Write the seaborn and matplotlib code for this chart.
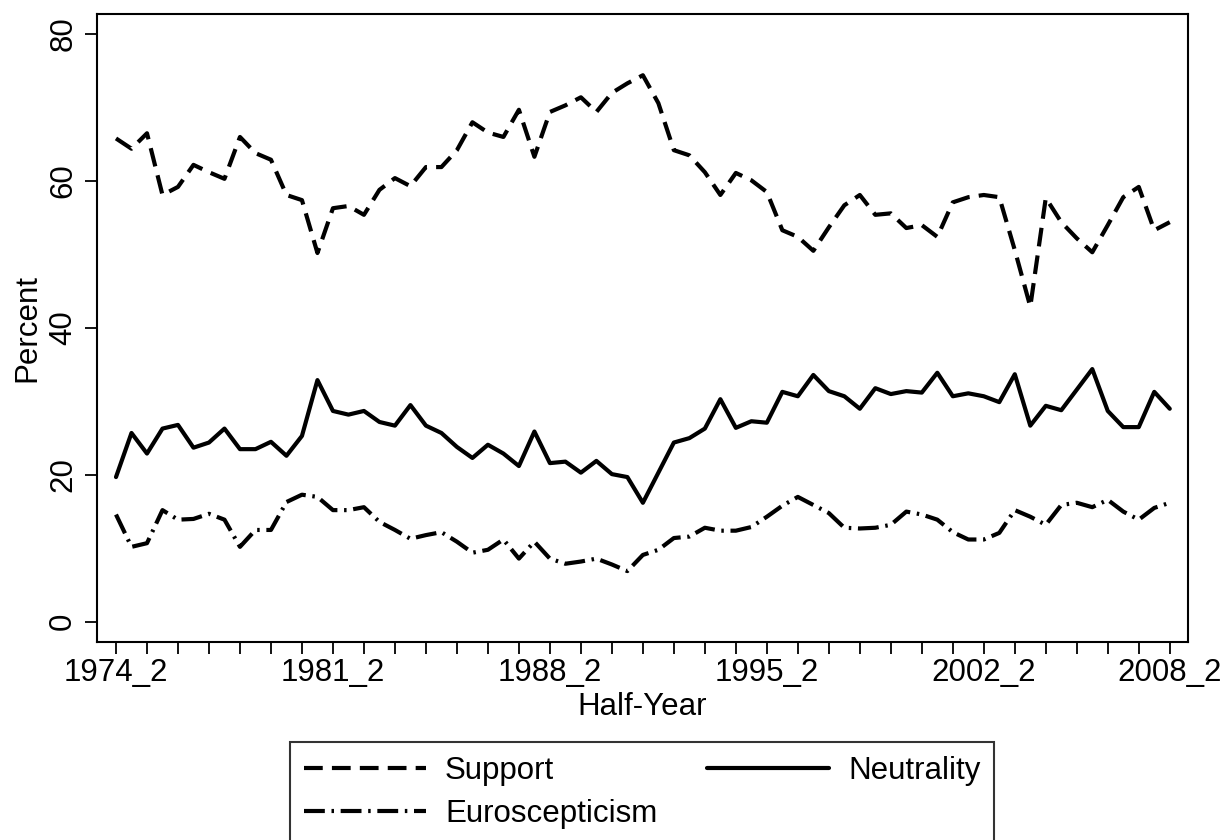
import pandas as pd
import matplotlib
matplotlib.use("Agg")
import matplotlib.pyplot as plt
import seaborn as sns

# half-year periods 1974_2 ... 2008_2
periods = [f"{y}_{h}" for y in range(1974, 2009) for h in (1, 2)][1:]
tick_labels = ["1974_2", "1981_2", "1988_2", "1995_2", "2002_2", "2008_2"]

support = [65.8, 64.4, 66.5, 58.1, 59.2, 62.2, 61.2, 60.3, 66.0, 63.8,
           62.9, 58.1, 57.4, 50.2, 56.3, 56.6, 55.4, 58.8, 60.4, 59.3,
           61.9, 61.9, 64.2, 68.0, 66.6, 66.0, 69.7, 63.3, 69.4, 70.3,
           71.4, 69.4, 72.0, 73.3, 74.4, 70.6, 64.2, 63.5, 61.2, 58.1,
           61.1, 60.1, 58.5, 53.3, 52.4, 50.5, 53.7, 56.7, 58.1, 55.4,
           55.6, 53.6, 54.0, 52.4, 57.1, 57.8, 58.1, 57.8, 50.6, 42.9,
           57.7, 54.4, 52.2, 50.3, 54.0, 57.8, 59.2, 53.3, 54.4]

neutrality = [19.7, 25.7, 22.9, 26.3, 26.8, 23.7, 24.4, 26.3, 23.5, 23.5,
              24.5, 22.6, 25.3, 32.9, 28.7, 28.2, 28.7, 27.2, 26.7, 29.5,
              26.7, 25.7, 23.8, 22.3, 24.1, 22.9, 21.2, 25.9, 21.6, 21.8,
              20.3, 21.9, 20.1, 19.7, 16.2, 20.3, 24.4, 25.0, 26.3, 30.3,
              26.4, 27.3, 27.1, 31.3, 30.7, 33.6, 31.4, 30.7, 29.0, 31.8,
              31.0, 31.4, 31.2, 33.9, 30.7, 31.1, 30.7, 29.9, 33.7, 26.7,
              29.4, 28.8, 31.6, 34.4, 28.7, 26.5, 26.5, 31.3, 29.0]

euroscepticism = [14.6, 10.2, 10.7, 15.2, 13.9, 14.0, 14.7, 13.9, 10.2, 12.5,
                  12.5, 16.3, 17.3, 17.0, 15.2, 15.2, 15.6, 13.6, 12.5, 11.3,
                  11.8, 12.2, 10.9, 9.4, 9.8, 11.2, 8.6, 10.9, 8.6, 7.9,
                  8.2, 8.6, 7.8, 6.9, 9.1, 9.8, 11.4, 11.6, 12.8, 12.4,
                  12.4, 12.9, 14.3, 15.8, 17.0, 15.9, 14.8, 12.8, 12.7, 12.8,
                  13.2, 15.0, 14.6, 13.9, 12.2, 11.2, 11.2, 12.1, 15.2, 14.3,
                  13.2, 15.9, 16.2, 15.6, 16.6, 15.0, 13.9, 15.5, 16.2]

sns.set_style("white")
plt.rcParams['font.family'] = ['Liberation Sans', 'DejaVu Sans']
plt.rcParams['font.size'] = 22.5
plt.rcParams['text.color'] = 'black'
plt.rcParams['axes.labelcolor'] = 'black'
plt.rcParams['xtick.color'] = 'black'
plt.rcParams['ytick.color'] = 'black'

# long format
n = len(periods)
df = pd.DataFrame({
    'pos': list(range(n)) * 3,
    'value': support + neutrality + euroscepticism,
    'series': ['Support'] * n + ['Neutrality'] * n + ['Euroscepticism'] * n,
})

fig = plt.figure(figsize=(12.27, 8.4), dpi=100)
ax = fig.add_axes([0.079, 0.236, 0.889, 0.747])

order = ['Support', 'Neutrality', 'Euroscepticism']
dash_map = {'Support': (4.5, 2.2), 'Neutrality': '', 'Euroscepticism': (5, 1.6, 0.6, 1.6)}
sns.lineplot(data=df, x='pos', y='value', style='series', style_order=order,
             dashes=dash_map, color='black', linewidth=3.0, ax=ax)

ax.set_xlim(-1.23, 69.16)
ax.set_ylim(-2.72, 82.7)

major = [periods.index(t) for t in tick_labels]
ax.set_xticks(major)
ax.set_xticklabels(tick_labels)
ax.set_xticks(list(range(0, n, 2)), minor=True)
ax.set_yticks([0, 20, 40, 60, 80])
ax.set_yticklabels(['0', '20', '40', '60', '80'], rotation=90, va='center')

ax.tick_params(axis='both', which='both', direction='out', length=8.5, width=1.3,
               color='black', labelcolor='black', labelsize=22.5, bottom=True, left=True)
ax.tick_params(axis='x', pad=3)
ax.tick_params(axis='y', pad=5)

for sp in ax.spines.values():
    sp.set_color('black')
    sp.set_linewidth(1.5)

ax.set_xlabel('Half-Year', fontsize=22.5, labelpad=3, color='black')
ax.set_ylabel('Percent', fontsize=22.5, labelpad=4, color='black')

# legend below the plot, Stata-like box
handles, labels = ax.get_legend_handles_labels()
ax.get_legend().remove()
lookup = dict(zip(labels, handles))
leg_order = ['Support', 'Euroscepticism', 'Neutrality']
leg_handles = [lookup[k] for k in leg_order]
for h in leg_handles:
    h.set_linewidth(3.0)
    h.set_color('black')
leg = fig.legend(leg_handles, leg_order, loc='upper center',
                 bbox_to_anchor=(0.5235, 0.1167), ncol=2, frameon=True,
                 fancybox=False, fontsize=22.5, handlelength=3.9,
                 handletextpad=0.6, columnspacing=1.6, labelspacing=0.4,
                 borderpad=0.45, borderaxespad=0)
leg.get_frame().set_edgecolor('black')
leg.get_frame().set_linewidth(1.5)
for t in leg.get_texts():
    t.set_color('black')

fig.savefig('out.png', dpi=100)
